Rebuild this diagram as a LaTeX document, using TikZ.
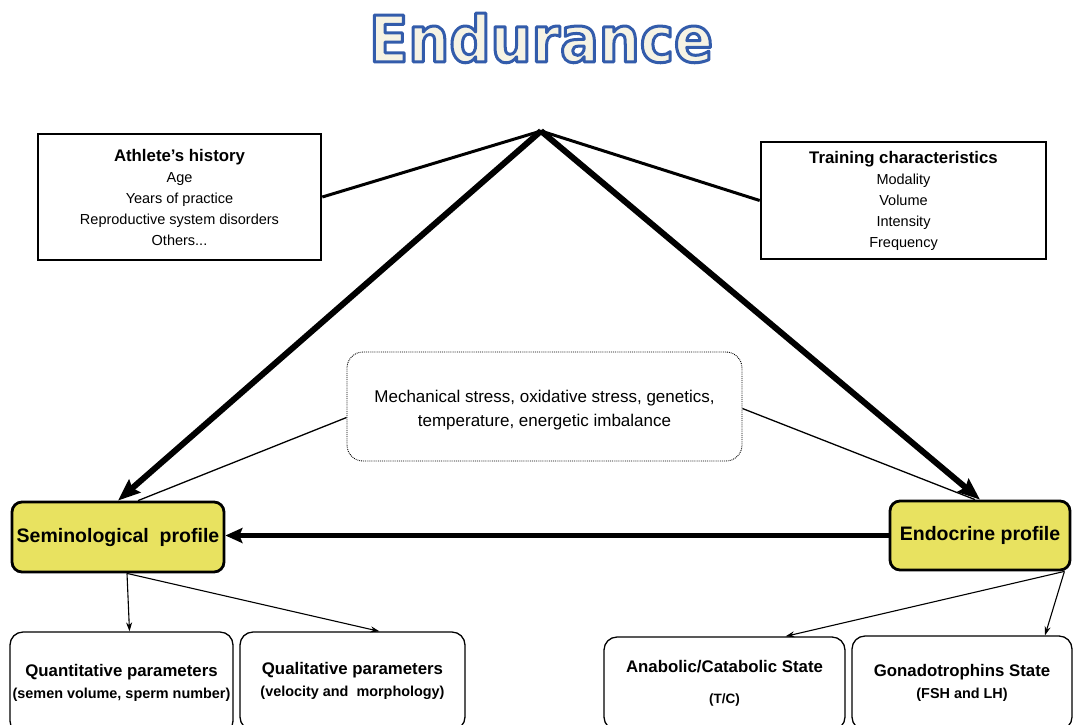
\documentclass[tikz,border=0pt]{standalone}
\usepackage{fontspec}
\setmainfont{Liberation Sans}
\newfontfamily\titlefont{DejaVu Sans Condensed}
\usepackage{tikz}
\usetikzlibrary{arrows.meta}
\definecolor{profyellow}{RGB}{232,226,96}
\definecolor{titlecream}{RGB}{246,243,228}
\newcommand{\outlined}[1]{{\color{titlecream}%
  \special{pdf:literal 2 Tr 3 w 0.2 0.36 0.67 RG 1 j}#1\special{pdf:literal 0 Tr}}}

\begin{document}
\begin{tikzpicture}
[x=1pt,y=-1pt
,histbox/.style={draw,line width=2.6pt,rectangle,align=center,inner sep=0pt,font=\fontsize{14.5}{21}\selectfont}
,midbox/.style={draw,densely dotted,line width=0.9pt,rounded corners=16pt,align=center,inner sep=0pt,font=\fontsize{17}{24}\selectfont}
,profbox/.style={draw,line width=2.8pt,rounded corners=10pt,fill=profyellow,align=center,inner sep=0pt,font=\fontsize{19.5}{23}\selectfont\bfseries}
,parbox/.style={draw,line width=1.3pt,rounded corners=13pt,align=center,inner sep=0pt,font=\fontsize{14.4}{22}\selectfont\bfseries}
,mainarr/.style={draw=black,line width=6pt,arrows={-Stealth[length=22pt,width=17pt,inset=3pt]}}
,sidearr/.style={draw=black,line width=4.5pt,arrows={-Stealth[length=17pt,width=15pt,inset=3pt]}}
,hline/.style={draw=black,line width=3pt}
,tline/.style={draw=black,line width=1.3pt}
,subarr/.style={draw=black,line width=1.1pt,arrows={-Stealth[length=9pt,width=6pt]}}
]
\useasboundingbox (0,0) rectangle (1073,724);
\clip (0,0) rectangle (1073,724);

\node (title) at (541,38) {\titlefont\bfseries\fontsize{64}{70}\selectfont\outlined{Endurance}};
\coordinate (apex) at (541,131);

\node[histbox,minimum width=283pt,minimum height=126pt] (athl) at (179.5,197)
  {{\fontsize{16.8}{21}\selectfont\bfseries Athlete’s history}\\
   Age\\ Years of practice\\ Reproductive system disorders\\ Others...};
\node[histbox,minimum width=285pt,minimum height=117pt] (train) at (903.5,200.5)
  {{\fontsize{16.8}{21}\selectfont\bfseries Training characteristics}\\
   Modality\\ Volume\\ Intensity\\ Frequency};
\node[midbox,minimum width=395pt,minimum height=109pt,text height=44pt] (mid) at (544.5,406.5)
  {Mechanical stress, oxidative stress, genetics,\\
   temperature, energetic imbalance};

\node[profbox,minimum width=212pt,minimum height=70pt] (semi) at (118,537)
  {Seminological\ \ profile};
\node[profbox,minimum width=180pt,minimum height=69pt] (endo) at (980,535.5)
  {Endocrine profile};

\node[parbox,minimum width=223pt,minimum height=102pt] (quant) at (121.5,683)
  {{\fontsize{16.8}{22}\selectfont Quantitative parameters}\\
   (semen volume, sperm number)};
\node[parbox,minimum width=225pt,minimum height=98pt] (qual) at (352.5,681)
  {{\fontsize{16.8}{22}\selectfont Qualitative parameters}\\
   (velocity and\ \ morphology)};
\node[parbox,minimum width=241pt,minimum height=93pt] (anab) at (724.5,683.5)
  {{\fontsize{16.8}{22}\selectfont Anabolic/Catabolic State}\\[9pt]
   {\fontsize{13.5}{16}\selectfont (T/C)}};
\node[parbox,minimum width=220pt,minimum height=94pt] (gona) at (962,683)
  {{\fontsize{16.8}{22}\selectfont Gonadotrophins State}\\
   (FSH and LH)};

% connectors
\draw[hline] (apex) -- (athl.east);
\draw[hline] (apex) -- (train.west);
\draw[mainarr] (apex) -- (semi.north);
\draw[mainarr] (apex) -- (endo.north);
\draw[tline] ([yshift=-11pt]mid.west) -- ([xshift=20pt]semi.north);
\draw[tline] ([yshift=-2pt]mid.east) -- ([xshift=-5pt]endo.north);
\draw[sidearr] (endo.west) -- (endo.west -| semi.east);
\draw[subarr] ([xshift=9pt]semi.south) -- ([xshift=8pt]quant.north);
\draw[subarr] ([xshift=9pt]semi.south) -- ([xshift=27pt]qual.north);
\draw[subarr] ([xshift=-7pt]endo.south east) -- ([xshift=61pt]anab.north);
\draw[subarr] ([xshift=-7pt]endo.south east) -- ([xshift=83pt]gona.north);
\end{tikzpicture}
\end{document}
